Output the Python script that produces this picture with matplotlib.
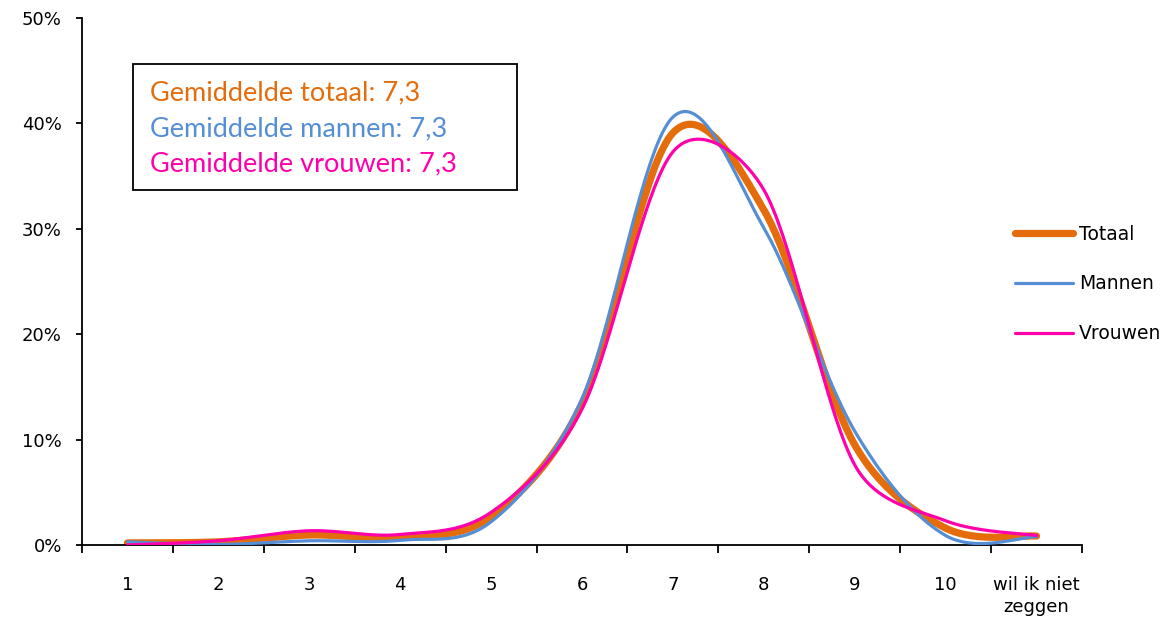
import numpy as np
import matplotlib
matplotlib.use("Agg")
import matplotlib.pyplot as plt
from matplotlib.patches import Rectangle

categories = ["1", "2", "3", "4", "5", "6", "7", "8", "9", "10", "wil ik niet\nzeggen"]
totaal  = [0.2, 0.3, 0.95, 0.75, 2.7, 13.4, 39.1, 31.8, 9.5, 1.6, 0.85]
mannen  = [0.3, 0.05, 0.4, 0.45, 2.2, 13.9, 40.6, 30.1, 10.8, 0.9, 0.8]
vrouwen = [0.0, 0.4, 1.35, 1.0, 3.1, 12.9, 37.3, 33.7, 7.6, 2.3, 0.9]
series_names = ["Totaal", "Mannen", "Vrouwen"]
averages = ["Gemiddelde totaal: 7,3", "Gemiddelde mannen: 7,3", "Gemiddelde vrouwen: 7,3"]
yticks = [0, 10, 20, 30, 40, 50]

C_T = "#E46C0A"
C_M = "#558ED5"
C_V = "#FF00AA"


def smooth_display(P, n=40, f=1 / 6, lim=0.42):
    """Excel-like smoothed line in screen space: Catmull-Rom Bezier segments
    whose control vectors are capped relative to the segment length."""
    out = []
    m = len(P)
    for i in range(m - 1):
        p0 = P[i - 1] if i > 0 else P[i]
        p1 = P[i]
        p2 = P[i + 1]
        p3 = P[i + 2] if i + 2 < m else P[i + 1]
        d12 = np.linalg.norm(p2 - p1)
        v1 = (p2 - p0) * f
        v2 = (p3 - p1) * f
        for v in (v1, v2):
            ln = np.linalg.norm(v)
            if ln > d12 * lim:
                v *= d12 * lim / ln
        b1 = p1 + v1
        b2 = p2 - v2
        t = np.linspace(0, 1, n)[:, None]
        seg = ((1 - t) ** 3) * p1 + 3 * ((1 - t) ** 2) * t * b1 + 3 * (1 - t) * t ** 2 * b2 + t ** 3 * p2
        if i > 0:
            seg = seg[1:]
        out.append(seg)
    return np.vstack(out)


W, H = 1165, 623
fig = plt.figure(figsize=(W / 100, H / 100), dpi=100)
ax = fig.add_axes([82 / W, (H - 545) / H, 1000 / W, (545 - 18) / H])
ax.set_xlim(-0.5, len(categories) - 0.5)
ax.set_ylim(0, 0.5)

x = np.arange(len(categories))
for vals, col, lw, name, z in [(totaal, C_T, 5.2, "Totaal", 2),
                               (mannen, C_M, 2.3, "Mannen", 3),
                               (vrouwen, C_V, 2.3, "Vrouwen", 4)]:
    pts = ax.transData.transform(np.column_stack([x, np.array(vals) / 100.0]))
    curve = ax.transData.inverted().transform(smooth_display(pts))
    ax.plot(curve[:, 0], curve[:, 1], color=col, lw=lw, label=name, zorder=z,
            solid_capstyle="round", solid_joinstyle="round")

ax.spines["top"].set_visible(False)
ax.spines["right"].set_visible(False)
for s in ["left", "bottom"]:
    ax.spines[s].set_linewidth(1.3)
    ax.spines[s].set_color("black")

ax.set_yticks([v / 100 for v in yticks])
ax.set_yticklabels([f"{v}%" for v in yticks])
ax.tick_params(axis="y", direction="out", length=4.5, width=1.3, pad=10,
               labelsize=13, colors="black")

ax.set_xticks(np.arange(len(categories) + 1) - 0.5)
ax.set_xticklabels([])
ax.tick_params(axis="x", which="major", direction="out", length=6, width=1.3)
ax.set_xticks(x, minor=True)
ax.set_xticklabels(categories, minor=True)
ax.tick_params(axis="x", which="minor", length=0, pad=22, labelsize=13)
for lab in ax.get_xticklabels(minor=True):
    lab.set_linespacing(1.3)
    lab.set_verticalalignment("top")

for lab in ax.get_xticklabels(minor=True) + ax.get_yticklabels():
    lab.set_family("DejaVu Sans")

# legend
leg = ax.legend(loc="center left", bbox_to_anchor=(1015 / W, 1 - 284 / H),
                bbox_transform=fig.transFigure, frameon=False,
                fontsize=13.5, handlelength=3.1, handletextpad=0.3,
                labelspacing=1.65, borderpad=0, borderaxespad=0)

# annotation box
fig.add_artist(Rectangle((133 / W, 1 - 190 / H), 384 / W, 126 / H,
                         transform=fig.transFigure, fill=False,
                         edgecolor="black", linewidth=1.3))
for txt, col, yb in zip(averages, [C_T, C_M, C_V], [100, 136, 171]):
    fig.text(150 / W, 1 - yb / H, txt, color=col, fontsize=19.5,
             family="Lato", va="baseline", ha="left")

fig.savefig("out.png", dpi=100)
